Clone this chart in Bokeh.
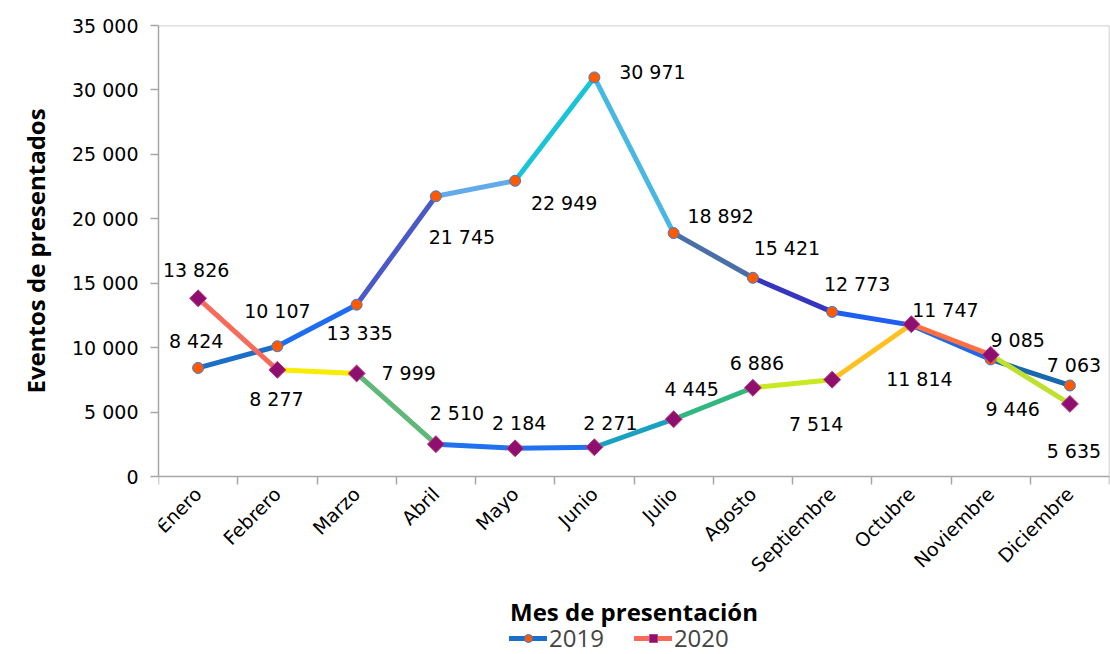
import math
from bokeh.plotting import figure
from bokeh.models import ColumnDataSource, FixedTicker, Legend, LegendItem, Range1d, Span, Title
from bokeh.core.properties import value
from bokeh.embed import file_html
from bokeh.resources import INLINE

# ---------------- data ----------------
months = ["Enero", "Febrero", "Marzo", "Abril", "Mayo", "Junio", "Julio",
          "Agosto", "Septiembre", "Octubre", "Noviembre", "Diciembre"]
v2019 = [8424, 10107, 13335, 21745, 22949, 30971, 18892, 15421, 12773, 11747, 9085, 7063]
v2020 = [13826, 8277, 7999, 2510, 2184, 2271, 4445, 6886, 7514, 11814, 9446, 5635]
y_ticks = [0, 5000, 10000, 15000, 20000, 25000, 30000, 35000]
y_tick_labels = ["0", "5 000", "10 000", "15 000", "20 000", "25 000", "30 000", "35 000"]
series_names = ["2019", "2020"]

# ---------------- styles ----------------
seg_colors_2019 = ["#1c6fc8", "#1e6cf0", "#4a58c8", "#62aaea", "#18c4d8", "#48b8e2",
                   "#4a6fa8", "#3535c0", "#1f5ff0", "#2168e8", "#1868b0"]
seg_colors_2020 = ["#f86a5a", "#f8ec00", "#60b878", "#2070f0", "#2070f0", "#1aa0c0",
                   "#30b880", "#c8e820", "#ffc020", "#ff7040", "#c0e030"]
lab2019_dx = [-2, 0, 3, 26, 49, 58, 47, 34, 25, 34, 27, 4]
lab2019_dy = [-27, -35, 28, 41, 22, -5, -17, -30, -28, -15, -19, -20]
lab2020_dx = [-2, -1, 52, 21, 4, 16, 18, 4, -16, 8, 22, 4]
lab2020_dy = [-28, 29, 0, -31, -25, -24, -30, -25, 44, 55, 54, 47]

# ---------------- layout (pixels) ----------------
W, H = 1110, 654
TOP, ZERO_PX = 25, 476   # frame top and pixel row of value 0
YTITLE_BOTTOM = 393      # pixel row where the vertical y title ends
y_max = y_ticks[-1]
y_start = y_max - (H - TOP) * y_max / (ZERO_PX - TOP)

def fmt(v):
    return f"{v:,}".replace(",", " ")

xs = [i + 0.5 for i in range(len(months))]
bounds = list(range(len(months) + 1))

p = figure(width=W, height=H, output_backend="svg", toolbar_location=None,
           x_range=Range1d(0, len(months)), y_range=Range1d(y_start, y_max),
           min_border_left=157, min_border_top=TOP, min_border_right=1, min_border_bottom=0)
p.background_fill_color = "white"
p.border_fill_color = "white"
p.outline_line_color = None
p.grid.visible = False

# frame border (top and right)
p.add_layout(Span(location=y_max, dimension="width", line_color="#bfbfbf", line_width=1.5))
p.segment(x0=[len(months)], y0=[0], x1=[len(months)], y1=[y_max],
          line_color="#bfbfbf", line_width=1.5)

# axes
p.xaxis.fixed_location = 0
p.xaxis.ticker = FixedTicker(ticks=xs, minor_ticks=bounds)
p.xaxis.major_label_overrides = {x: m for x, m in zip(xs, months)}
p.xaxis.major_label_orientation = math.pi / 4
p.xaxis.major_tick_line_color = None
p.xaxis.minor_tick_in = 0
p.xaxis.minor_tick_out = 8
p.xaxis.minor_tick_line_color = "#a6a6a6"
p.xaxis.minor_tick_line_width = 1.5
p.xaxis.major_label_standoff = 6
p.xaxis.axis_label = "Mes de presentación"
p.xaxis.axis_label_standoff = 8

p.yaxis.ticker = FixedTicker(ticks=y_ticks, minor_ticks=[])
p.yaxis.bounds = (0, y_max)
p.yaxis.major_label_overrides = {t: l for t, l in zip(y_ticks, y_tick_labels)}
p.yaxis.major_tick_in = 0
p.yaxis.major_tick_out = 8
p.yaxis.major_label_standoff = 12

for ax in (p.xaxis[0], p.yaxis[0]):
    ax.axis_line_color = "#a6a6a6"
    ax.axis_line_width = 1.5
    ax.major_tick_line_width = 1.5
    if ax is p.yaxis[0]:
        ax.major_tick_line_color = "#a6a6a6"
    ax.major_label_text_font = "DejaVu Sans"
    ax.major_label_text_font_size = "19px"
    ax.major_label_text_color = "#000000"
    ax.axis_label_text_font = "Open Sans"
    ax.axis_label_text_font_style = "bold"
    ax.axis_label_text_font_size = "24px"
    ax.axis_label_text_color = "#000000"

# y-axis title, placed along the 0..35000 part of the frame
p.add_layout(Title(text="Eventos de presentados", align="left", vertical_align="middle",
                   offset=H - YTITLE_BOTTOM,
                   text_font="Open Sans", text_font_style="bold", text_font_size="24px",
                   text_color="#000000", standoff=34), "left")

renderers = {}
for name, vals, cols in [("2019", v2019, seg_colors_2019), ("2020", v2020, seg_colors_2020)]:
    seg_src = ColumnDataSource(dict(x0=xs[:-1], x1=xs[1:], y0=vals[:-1], y1=vals[1:], c=cols))
    seg = p.segment("x0", "y0", "x1", "y1", source=seg_src, line_color="c",
                    line_width=5, line_cap="round")
    renderers[name] = [seg]

for name, vals, marker, msize, angle, mfill, mline, dx, dy in [
        ("2019", v2019, "circle", 11, 0.0, "#ff5a00", "#3a7bd5", lab2019_dx, lab2019_dy),
        ("2020", v2020, "square", 12, math.pi / 4, "#8e0f70", "#c0407a", lab2020_dx, lab2020_dy)]:
    src = ColumnDataSource(dict(x=xs, y=vals, t=[fmt(v) for v in vals], dx=dx, dy=dy,
                                a=[angle] * len(vals)))
    sc = p.scatter("x", "y", source=src, marker=marker, size=msize, angle="a",
                   angle_units="rad", fill_color=mfill, line_color=mline, line_width=1)
    renderers[name].append(sc)
    p.text("x", "y", text="t", source=src, x_offset="dx", y_offset="dy",
           text_align="center", text_baseline="middle",
           text_font=value("DejaVu Sans"), text_font_size="19px", text_color="#000000")

legend = Legend(items=[LegendItem(label=n, renderers=renderers[n]) for n in series_names],
                orientation="horizontal", location=(351, 0),
                label_text_font="Open Sans", label_text_font_size="24px",
                glyph_width=38, glyph_height=20, spacing=30, padding=0, margin=0,
                border_line_color=None, background_fill_alpha=0, label_standoff=2)
p.add_layout(legend)

open("out.html", "w").write(file_html(p, INLINE))
